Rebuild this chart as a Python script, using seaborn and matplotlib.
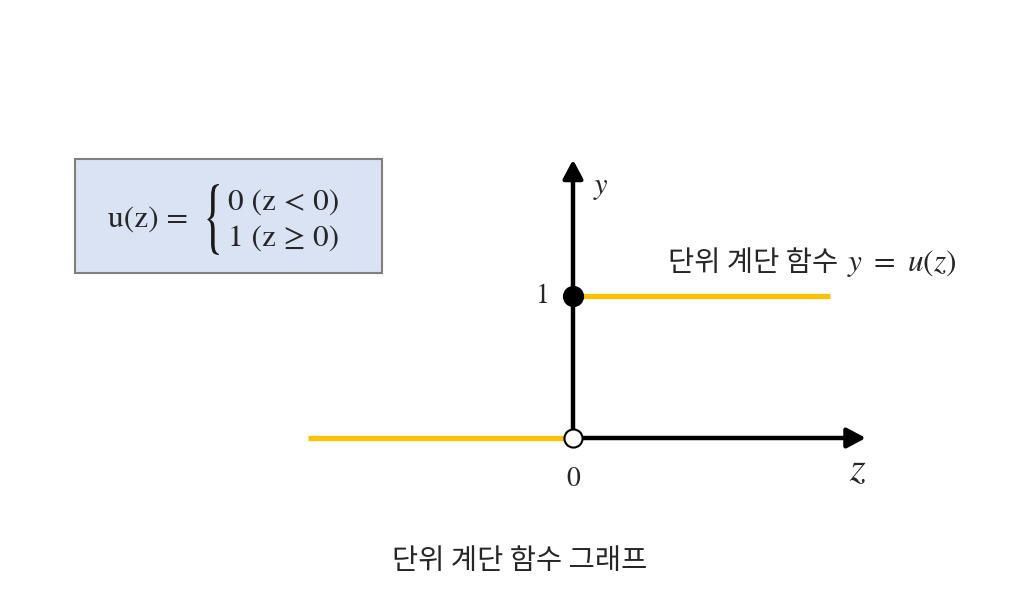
import matplotlib
matplotlib.use("Agg")
import matplotlib.pyplot as plt
import matplotlib.patches as patches
from matplotlib.textpath import TextPath
from matplotlib.font_manager import FontProperties
from matplotlib.transforms import Affine2D, IdentityTransform
import seaborn as sns
import pandas as pd

# ---- data ----
seg_z = [-1.0, 0.0, 0.0, 0.97]      # step function segments (z)
seg_u = [0, 0, 1, 1]               # u(z)
seg_id = ["neg", "neg", "pos", "pos"]
closed_pt = (0, 1)   # u(0) = 1 (filled)
open_pt = (0, 0)     # open circle
z_axis_end = 1.105
y_axis_end = 1.96
title_text = "단위 계단 함수 그래프"
func_label = "단위 계단 함수"
func_math = r"$y\ =\ u(z)$"
case_lines = ["0 (z < 0)", "1 (z ≥ 0)"]
lhs_text = "u(z) ="

sns.set_theme(style="white")
plt.rcParams["mathtext.fontset"] = "stix"
plt.rcParams["font.family"] = ["Noto Sans CJK KR", "DejaVu Sans"]

W, H = 1024, 600
fig = plt.figure(figsize=(W / 100, H / 100), dpi=100)
ax = fig.add_axes([0, 0, 1, 1])
sx, sy = 265.0, 142.0
ox, oy = 573.0, 162.0  # origin in pixels from bottom-left
ax.set_xlim(-ox / sx, (W - ox) / sx)
ax.set_ylim(-oy / sy, (H - oy) / sy)
ax.axis("off")

def px(x):
    return x / W
def py(y):
    return 1 - y / H

df = pd.DataFrame({"z": seg_z, "u": seg_u, "seg": seg_id})
sns.lineplot(data=df, x="z", y="u", units="seg", estimator=None,
             color="#FFC000", lw=3.8, ax=ax, legend=False, zorder=2,
             solid_capstyle="butt")

# axes arrows
astyle = "-|>,head_length=0.75,head_width=0.4"
for end in [(z_axis_end, 0), (0, y_axis_end)]:
    ax.annotate("", xy=end, xytext=(0, 0),
                arrowprops=dict(arrowstyle=astyle, lw=3.2, color="black",
                                mutation_scale=15, shrinkA=0, shrinkB=0),
                zorder=3)

pts = pd.DataFrame({"z": [closed_pt[0], open_pt[0]], "u": [closed_pt[1], open_pt[1]],
                    "kind": ["closed", "open"]})
sns.scatterplot(data=pts[pts.kind == "closed"], x="z", y="u", ax=ax, s=190,
                color="black", edgecolor="black", linewidth=1.5, zorder=5, legend=False)
sns.scatterplot(data=pts[pts.kind == "open"], x="z", y="u", ax=ax, s=170,
                color="white", edgecolor="black", linewidth=1.5, zorder=5, legend=False)

serif = ["STIXGeneral", "DejaVu Serif"]
ax.text(-30 / sx, 1, "1", ha="center", va="center", fontsize=20, family=serif)
ax.text(0, -41 / sy, "0", ha="center", va="center", fontsize=20, family=serif)
fig.text(px(601), py(186), r"$y$", ha="center", va="center", fontsize=22)
fig.text(px(858), py(469), r"$z$", ha="center", va="center", fontsize=29)

fig.text(px(838), py(263), func_label, ha="right", va="center", fontsize=20.5)
fig.text(px(847), py(263), func_math, ha="left", va="center", fontsize=22.5)

fig.text(px(520), py(561), title_text, ha="center", va="center", fontsize=20.5)

# formula box
rect = patches.Rectangle((px(75), py(273)), (382 - 75) / W, (273 - 159) / H,
                         transform=fig.transFigure, facecolor="#DAE3F3",
                         edgecolor="#7F7F7F", lw=1.5)
fig.patches.append(rect)
fig.text(px(108), py(220), lhs_text, ha="left", va="center", fontsize=22.5, family=serif)
fig.text(px(228), py(203), case_lines[0], ha="left", va="center", fontsize=22.5, family=serif)
fig.text(px(228), py(239), case_lines[1], ha="left", va="center", fontsize=22.5, family=serif)

# stretched brace
tp = TextPath((0, 0), "{", size=100, prop=FontProperties(family="STIXGeneral"))
ext = tp.get_extents()
bx0, bx1, by0, by1 = 207, 219, 184, 255  # pixel box (top-left origin)
tr = (Affine2D().translate(-ext.x0, -ext.y0)
      .scale((bx1 - bx0) / ext.width, (by1 - by0) / ext.height)
      .translate(bx0, H - by1))
brace = patches.PathPatch(tr.transform_path(tp), transform=IdentityTransform(),
                          facecolor="#1a1a1a", edgecolor="none")
fig.patches.append(brace)

fig.savefig("out.png", dpi=100)
